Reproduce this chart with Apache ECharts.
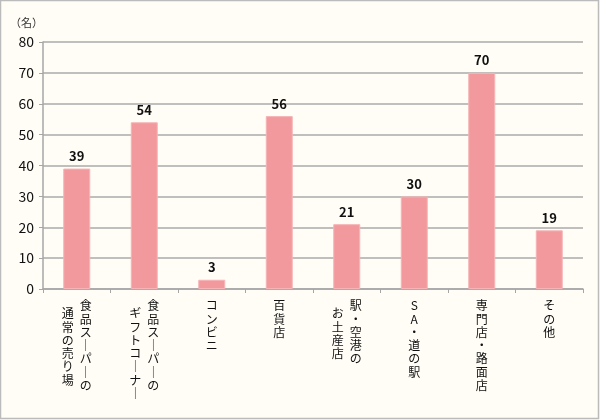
<!DOCTYPE html>
<html><head><meta charset="utf-8">
<script src="https://cdn.jsdelivr.net/npm/echarts@6/dist/echarts.min.js"></script>
<style>html,body{margin:0;padding:0;background:#FFFDF6}#c{width:600px;height:420px}</style>
</head><body><div id="c"></div>
<script>
// Categories: [right column, left column] of the vertical labels
const categories = ['食品スーパーの通常の売り場','食品スーパーのギフトコーナー','コンビニ','百貨店','駅・空港のお土産店','SA・道の駅','専門店・路面店','その他'];
const labelColRight = ['食品スーパーの','食品スーパーの','コンビニ','百貨店','駅・空港の','SA・道の駅','専門店・路面店','その他'];
const labelColLeft = ['通常の売り場','ギフトコーナー','','','お土産店','','',''];
const values = [39, 54, 3, 56, 21, 30, 70, 19];
const yTicks = [0, 10, 20, 30, 40, 50, 60, 70, 80];
const unitLabel = '（名）';

function vert(s){ return s.split('').map(c => c === 'ー' ? '｜' : c).join('\n'); }

const chart = echarts.init(document.getElementById('c'));
const font = '"Noto Sans CJK JP", sans-serif';
const LH = 13.3, FS = 12;
chart.setOption({
  backgroundColor: '#FFFDF6',
  animation: false,
  graphic: [{ type: 'rect', shape: { x: 0.5, y: 0.5, width: 598, height: 418 },
    style: { fill: 'none', stroke: '#BBBBBB', lineWidth: 1.5 }, silent: true }],
  grid: { left: 43, right: 17, top: 42, bottom: 131 },
  xAxis: [{
    type: 'category', data: categories,
    axisLine: { lineStyle: { color: '#A6A6A6', width: 1.5 } },
    axisTick: { show: true, length: 4, lineStyle: { color: '#A6A6A6' } },
    axisLabel: {
      interval: 0, margin: 10, fontFamily: font, fontSize: FS, color: '#111', lineHeight: LH,
      formatter: (v, i) => labelColLeft[i] ? '{r|' + vert(labelColRight[i]) + '}' : '{c|' + vert(labelColRight[i]) + '}',
      rich: { r: { padding: [0, 0, 0, 18], lineHeight: LH, fontSize: FS, fontFamily: font }, c: { lineHeight: LH, fontSize: FS, fontFamily: font } }
    }
  }, {
    type: 'category', data: categories, position: 'bottom',
    axisLine: { show: false }, axisTick: { show: false },
    axisLabel: {
      interval: 0, margin: 18, fontFamily: font, fontSize: FS, color: '#111', lineHeight: LH,
      formatter: (v, i) => labelColLeft[i] ? '{l|' + vert(labelColLeft[i]) + '}' : '',
      rich: { l: { padding: [0, 18, 0, 0], lineHeight: LH, fontSize: FS, fontFamily: font } }
    }
  }],
  yAxis: {
    type: 'value', min: yTicks[0], max: yTicks[yTicks.length - 1], interval: 10,
    name: unitLabel, nameLocation: 'end', nameGap: 14,
    nameTextStyle: { fontFamily: font, fontSize: 11, color: '#333', align: 'right', padding: [0, 0, 0, 0] },
    axisLine: { show: true, lineStyle: { color: '#A6A6A6', width: 1.5 } },
    axisTick: { show: true, length: 4, lineStyle: { color: '#A6A6A6' } },
    axisLabel: { fontFamily: font, fontSize: 14, color: '#111', margin: 9 },
    splitLine: { lineStyle: { color: '#AAAAAA', width: 1.5 } }
  },
  series: [{
    type: 'bar', data: values, barWidth: 27, xAxisIndex: 0,
    itemStyle: { color: '#F2999D', borderColor: '#F6B4B6', borderWidth: 1 },
    label: { show: true, position: 'top', distance: 6, fontFamily: font, fontSize: 13, fontWeight: 'bold', color: '#111' }
  }]
});
</script></body></html>
